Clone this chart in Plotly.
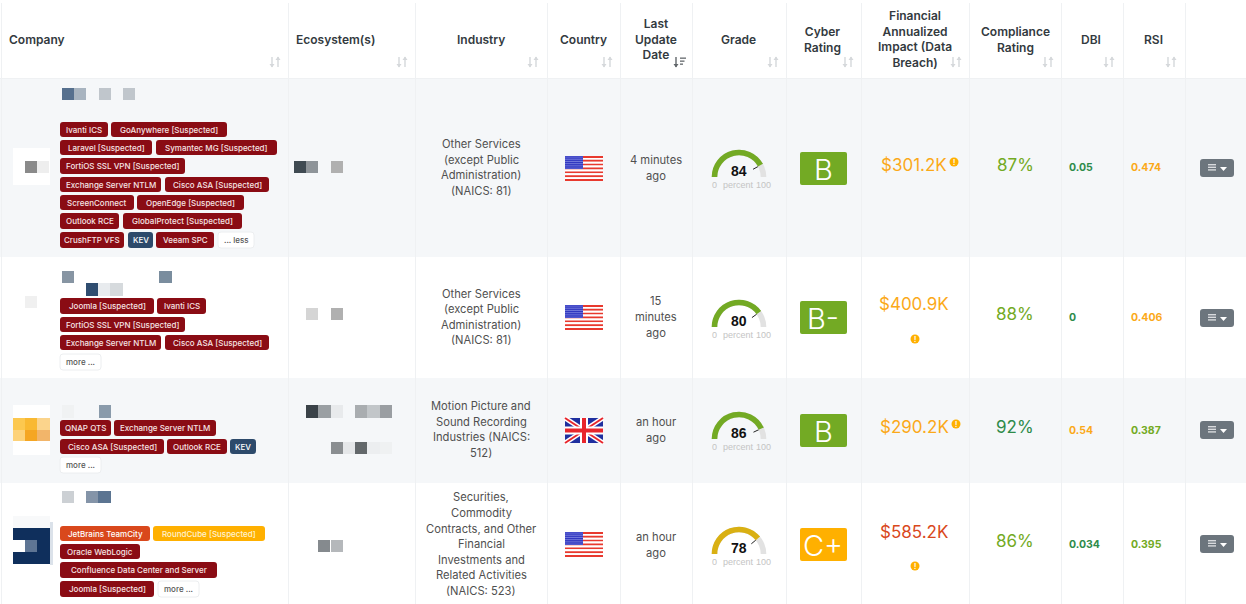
#!/usr/bin/env python
"""
plot.py - company risk table (tags, gauges, ratings) drawn with Plotly
"""
import math

import plotly.graph_objects as go

WIDTH = 1246
HEIGHT = 604
FONT = "Inter"

# --- table content ---
HEADERS = [
    "Company", "Ecosystem(s)", "Industry", "Country", "Last<br>Update<br>Date", "Grade",
    "Cyber<br>Rating", "Financial<br>Annualized<br>Impact (Data<br>Breach)",
    "Compliance<br>Rating", "DBI", "RSI",
]
ROW_TAGS = [
    ["Ivanti ICS", "GoAnywhere [Suspected]", "Laravel [Suspected]", "Symantec MG [Suspected]",
     "FortiOS SSL VPN [Suspected]", "Exchange Server NTLM", "Cisco ASA [Suspected]",
     "ScreenConnect", "OpenEdge [Suspected]", "Outlook RCE", "GlobalProtect [Suspected]",
     "CrushFTP VFS", "KEV", "Veeam SPC", "... less"],
    ["Joomla [Suspected]", "Ivanti ICS", "FortiOS SSL VPN [Suspected]", "Exchange Server NTLM",
     "Cisco ASA [Suspected]", "more ..."],
    ["QNAP QTS", "Exchange Server NTLM", "Cisco ASA [Suspected]", "Outlook RCE", "KEV", "more ..."],
    ["JetBrains TeamCity", "RoundCube [Suspected]", "Oracle WebLogic",
     "Confluence Data Center and Server", "Joomla [Suspected]", "more ..."],
]
INDUSTRY = [
    ["Other Services", "(except Public", "Administration)", "(NAICS: 81)"],
    ["Other Services", "(except Public", "Administration)", "(NAICS: 81)"],
    ["Motion Picture and", "Sound Recording", "Industries (NAICS:", "512)"],
    ["Securities,", "Commodity", "Contracts, and Other", "Financial", "Investments and",
     "Related Activities", "(NAICS: 523)"],
]
COUNTRY = ["US", "US", "UK", "US"]
UPDATED = [["4 minutes", "ago"], ["15", "minutes", "ago"], ["an hour", "ago"], ["an hour", "ago"]]
GRADE = [84, 80, 86, 78]
CYBER = ["B", "B-", "B", "C+"]
IMPACT = ["$301.2K", "$400.9K", "$290.2K", "$585.2K"]
COMPLIANCE = ["87%", "88%", "92%", "86%"]
DBI = ["0.05", "0", "0.54", "0.034"]
RSI = ["0.474", "0.406", "0.387", "0.395"]

# --- colours ---
RED = "#8a0c14"
ORANGE_RED = "#d9481c"
AMBER = "#ffb000"
NAVY = "#2d4a6b"
GREEN = "#73aa24"
DARK_GREEN = "#2e8b4a"
GOLD = "#d9b013"
ORANGE = "#fba919"
BAND = "#f5f7f9"
LINE = "#eff1f3"
TEXT = "#505050"
HEAD = "#333a40"

IMPACT_COLOR = [ORANGE, ORANGE, ORANGE, ORANGE_RED]
CYBER_COLOR = [GREEN, GREEN, GREEN, AMBER]
GAUGE_COLOR = [GREEN, GREEN, GREEN, GOLD]
COMPLIANCE_COLOR = [GREEN, GREEN, DARK_GREEN, GREEN]
DBI_COLOR = [DARK_GREEN, DARK_GREEN, ORANGE, DARK_GREEN]
RSI_COLOR = [ORANGE, ORANGE, GREEN, GREEN]

# --- layout in pixels, separate from the values above ---
COL_EDGES = [288, 415, 547, 620, 692, 786, 861, 969, 1061, 1123, 1185]
ROW_EDGES = [79, 257, 378, 483, 604]
HEADER_X = [9, 296, 481, 583, 656, 738, 822, 915, 1015, 1091, 1153]
SORT_X = [275, 402, 533, 607, 679, 773, 848, 956, 1048, 1109, 1171]
TAG_BOXES = [
    [(60, 108, 122, 137), (111, 227, 122, 137), (60, 152, 140, 155), (156, 277, 140, 155),
     (60, 185, 158, 174), (60, 161, 177, 192), (165, 269, 177, 192), (60, 134, 195, 210),
     (137, 244, 195, 210), (60, 119, 213, 229), (123, 242, 213, 229), (60, 124, 232, 248),
     (128, 153, 232, 248), (156, 214, 232, 248), (218, 254, 232, 248)],
    [(60, 154, 298, 314), (157, 206, 298, 314), (60, 185, 317, 332), (60, 161, 335, 350),
     (165, 269, 335, 350), (60, 101, 354, 370)],
    [(60, 111, 420, 436), (114, 216, 420, 436), (60, 164, 439, 454), (167, 227, 439, 454),
     (230, 256, 439, 454), (60, 101, 457, 473)],
    [(60, 150, 526, 541), (153, 265, 526, 541), (60, 140, 544, 559), (60, 217, 562, 578),
     (60, 154, 581, 597), (158, 199, 581, 597)],
]
INDUSTRY_Y = [[144, 160, 175, 191], [294, 309, 325, 340], [406, 422, 437, 453],
              [497, 513, 529, 544, 560, 575, 591]]
UPDATED_Y = [[160, 176], [301, 317, 333], [422, 438], [537, 553]]
FLAG_Y = [156, 305, 418, 532]
GAUGE_BASE = [177, 327, 439, 554]
CYBER_Y = [152, 301, 414, 528]
IMPACT_Y = [165, 304, 427, 532]
INFO_POS = [(954, 162), (915, 339), (956, 424), (915, 566)]
COMPLIANCE_Y = [165, 314, 427, 541]
SCORE_Y = [167, 317, 430, 544]
MENU_Y = [159, 309, 421, 535]

# redaction mosaics: x0, x1, y0, y1, colour
MOSAICS = [
    (13, 50, 148, 185, "#ffffff"), (25, 37, 161, 173, "#8a8a8a"), (37, 49, 161, 173, "#eeeeee"),
    (62, 74, 88, 100, "#56708e"), (74, 86, 88, 100, "#a8b4c0"), (99, 111, 88, 100, "#c0c6cc"),
    (123, 135, 88, 100, "#c0c6cc"), (294, 306, 161, 173, "#3f4a52"), (306, 318, 161, 173, "#8e9499"),
    (331, 343, 161, 173, "#b0b0b0"),
    (62, 74, 271, 283, "#8795a3"), (159, 172, 271, 283, "#7a8d9e"), (86, 98, 283, 296, "#2f4d70"),
    (98, 110, 283, 296, "#e8ebee"), (110, 123, 283, 296, "#d6dadd"), (25, 37, 296, 308, "#f0f0f0"),
    (306, 318, 308, 320, "#d5d5d5"), (331, 343, 308, 320, "#b0b0b0"),
    (13, 50, 405, 455, "#ffffff"), (13, 25, 418, 430, "#fcc84f"), (25, 37, 418, 430, "#f9b932"),
    (37, 50, 418, 430, "#fbd48c"), (13, 25, 430, 441, "#fdd27a"), (25, 37, 430, 441, "#f5a623"),
    (37, 50, 430, 441, "#f2b56a"), (62, 74, 405, 418, "#f0f2f3"), (99, 111, 405, 418, "#8a9bab"),
    (306, 318, 405, 418, "#3a4248"), (318, 331, 405, 418, "#9a9fa3"), (331, 343, 405, 418, "#e8eaec"),
    (355, 367, 405, 418, "#a9adb0"), (367, 380, 405, 418, "#c2c6c9"), (380, 392, 405, 418, "#9a9ea2"),
    (331, 343, 442, 454, "#8a8e91"), (343, 355, 442, 454, "#e5e7e9"), (355, 367, 442, 454, "#63686b"),
    (367, 380, 442, 454, "#eceef0"), (380, 392, 442, 454, "#eff1f2"),
    (62, 74, 491, 503, "#ccd0d4"), (86, 98, 491, 503, "#8494a8"), (98, 111, 491, 503, "#5b7491"),
    (13, 50, 516, 528, "#f8f9fa"), (50, 53, 522, 565, "#dbe2ea"),
    (13, 50, 528, 564, "#0f2f5c"), (13, 25, 540, 552, "#ffffff"), (25, 37, 540, 552, "#5e7594"),
    (318, 330, 540, 552, "#858a8e"), (331, 343, 540, 552, "#b5b8bb"),
]

shapes = []
annotations = []


def add_rect(x0, x1, y0, y1, color):
    shapes.append(dict(type="rect", x0=x0, x1=x1, y0=y0, y1=y1, fillcolor=color,
                       line=dict(width=0), layer="below"))


def add_rounded(x0, x1, y0, y1, color, r=3, border=None):
    path = (f"M{x0 + r},{y0} L{x1 - r},{y0} Q{x1},{y0} {x1},{y0 + r} L{x1},{y1 - r} "
            f"Q{x1},{y1} {x1 - r},{y1} L{x0 + r},{y1} Q{x0},{y1} {x0},{y1 - r} "
            f"L{x0},{y0 + r} Q{x0},{y0} {x0 + r},{y0} Z")
    line = dict(width=1, color=border) if border else dict(width=0)
    shapes.append(dict(type="path", path=path, fillcolor=color, line=line, layer="below"))


def add_text(x, y, text, size=11, color=TEXT, anchor="center", family=FONT, weight=400):
    annotations.append(dict(x=x, y=y, text=text, showarrow=False, xanchor=anchor, yanchor="middle",
                            borderpad=0, borderwidth=0,
                            font=dict(size=size, color=color, family=family, weight=weight)))


def add_arrow(x, y, color, down=True):
    # small vertical arrow with a triangular head
    tip, back = (y + 5.5, y + 2) if down else (y - 5.5, y - 2)
    add_rect(x - 0.7, x + 0.7, y - 5, y + 5, color)
    shapes.append(dict(type="path", path=f"M{x - 2.5},{back} L{x + 2.5},{back} L{x},{tip} Z",
                       fillcolor=color, line=dict(width=0), layer="below"))


def add_sort_icon(x, y, active=False):
    if active:
        # dark down arrow plus the shrinking bars of a sorted column
        add_arrow(x - 3, y, "#62676b")
        for i, width in enumerate((6, 4.5, 3)):
            add_rect(x + 1, x + 1 + width, y - 4.5 + i * 3, y - 3.2 + i * 3, "#62676b")
        return
    add_arrow(x - 3, y, "#d5d8db", down=True)
    add_arrow(x + 3, y, "#d5d8db", down=False)


def add_menu_button(y):
    add_rounded(1200, 1234, y, y + 18, "#6c757d", r=3)
    for i in range(3):
        add_rect(1208, 1216, y + 5 + i * 2.6, y + 6.4 + i * 2.6, "#d8dadd")
    shapes.append(dict(type="path", path=f"M1220,{y + 8} L1227,{y + 8} L1223.5,{y + 12} Z",
                       fillcolor="#ffffff", line=dict(width=0), layer="below"))


def tag_style(label):
    if label == "KEV":
        return NAVY, "#ffffff"
    if label.startswith("JetBrains"):
        return ORANGE_RED, "#ffffff"
    if label.startswith("RoundCube"):
        return AMBER, "#fff3d0"
    if label in ("more ...", "... less"):
        return "#ffffff", "#555555"
    return RED, "#f6e4e4"


def add_us_flag(x, y):
    for i in range(13):
        color = "#e8392e" if i % 2 == 0 else "#ffffff"
        add_rect(x, x + 38, y + i * 25 / 13, y + (i + 1) * 25 / 13, color)
    add_rect(x, x + 18, y, y + 13, "#3137c0")


def add_uk_flag(x, y):
    add_rect(x, x + 38, y, y + 25, "#1f2f9f")
    x1, y1 = x + 38, y + 25
    for width, color in ((5, "#ffffff"), (2, "#e8262c")):
        for a, b, c, d in ((x, y, x1, y1), (x, y1, x1, y)):
            shapes.append(dict(type="line", x0=a, y0=b, x1=c, y1=d, layer="below",
                               line=dict(color=color, width=width)))
    for width, color in ((8, "#ffffff"), (4, "#e8262c")):
        shapes.append(dict(type="line", x0=x + 19, y0=y, x1=x + 19, y1=y1, layer="below",
                           line=dict(color=color, width=width)))
        shapes.append(dict(type="line", x0=x, y0=y + 12.5, x1=x1, y1=y + 12.5, layer="below",
                           line=dict(color=color, width=width)))


def build_table():
    # row bands and column separators
    for i, color in enumerate([BAND, "#ffffff", BAND, "#ffffff"]):
        add_rect(0, WIDTH, ROW_EDGES[i], ROW_EDGES[i + 1], color)
    add_rect(0, WIDTH, 78, 79, LINE)
    for edge in COL_EDGES:
        add_rect(edge, edge + 1, 3, HEIGHT, LINE)
    add_rect(1, 2, 3, HEIGHT, LINE)

    # header
    for i, label in enumerate(HEADERS):
        anchor = "left" if i < 2 else "center"
        add_text(HEADER_X[i], 39, label, size=12, color=HEAD, anchor=anchor, weight=600)
        add_sort_icon(SORT_X[i], 62, active=i == 4)

    for x0, x1, y0, y1, color in MOSAICS:
        add_rect(x0, x1, y0, y1, color)

    for r in range(4):
        # tags of the company cell
        for label, (x0, x1, y0, y1) in zip(ROW_TAGS[r], TAG_BOXES[r]):
            fill, ink = tag_style(label)
            add_rounded(x0, x1, y0, y1, fill, border="#eceef0" if fill == "#ffffff" else None)
            add_text((x0 + x1) / 2, (y0 + y1) / 2, label, size=8, color=ink, weight=500)

        for line, y in zip(INDUSTRY[r], INDUSTRY_Y[r]):
            add_text(481, y, line, size=11.2, color=TEXT)
        for line, y in zip(UPDATED[r], UPDATED_Y[r]):
            add_text(656, y, line, size=11.2, color=TEXT)

        if COUNTRY[r] == "US":
            add_us_flag(565, FLAG_Y[r])
        else:
            add_uk_flag(565, FLAG_Y[r])

        # labels around the gauge
        base = GAUGE_BASE[r]
        add_text(739, base - 6, str(GRADE[r]), size=14, color="#111111",
                 family="Liberation Sans", weight=700)
        add_text(714, base + 8, "0", size=9, color="#c4c4c4", family="Liberation Sans")
        add_text(738.5, base + 8, "percent", size=9, color="#c4c4c4", family="Liberation Sans")
        add_text(763, base + 8, "100", size=9, color="#c4c4c4", family="Liberation Sans")

        add_rounded(800, 847, CYBER_Y[r], CYBER_Y[r] + 33, CYBER_COLOR[r], r=2)
        add_text(823, CYBER_Y[r] + 17, CYBER[r], size=29, color="#ffffff", weight=300)

        add_text(914, IMPACT_Y[r], IMPACT[r], size=17, color=IMPACT_COLOR[r])
        ix, iy = INFO_POS[r]
        shapes.append(dict(type="circle", x0=ix - 4.5, x1=ix + 4.5, y0=iy - 4.5, y1=iy + 4.5,
                           fillcolor=AMBER, line=dict(width=0), layer="below"))
        add_text(ix, iy, "!", size=7, color="#ffffff", weight=700)

        add_text(1015, COMPLIANCE_Y[r], COMPLIANCE[r], size=17, color=COMPLIANCE_COLOR[r])
        add_text(1069, SCORE_Y[r], DBI[r], size=10.5, color=DBI_COLOR[r], anchor="left", weight=700)
        add_text(1131, SCORE_Y[r], RSI[r], size=10.5, color=RSI_COLOR[r], anchor="left", weight=700)

        add_menu_button(MENU_Y[r])


def gauge_traces():
    traces = []
    radius = 28
    for r, value in enumerate(GRADE):
        base = GAUGE_BASE[r]
        traces.append(go.Indicator(
            mode="gauge",
            value=value,
            domain=dict(
                x=[(739 - radius) / WIDTH, (739 + radius) / WIDTH],
                y=[1 - base / HEIGHT, 1 - (base - radius) / HEIGHT],
            ),
            gauge=dict(
                shape="angular",
                axis=dict(range=[0, 100], visible=False),
                bar=dict(color=GAUGE_COLOR[r], thickness=0.8),
                bgcolor="rgba(0,0,0,0)",
                borderwidth=0,
                steps=[dict(range=[0, 100], color="#e2e2e2", thickness=0.8)],
            ),
        ))
        # short needle at the gauge value
        angle = math.pi * (1 - value / 100)
        traces.append(go.Scatter(
            x=[739 + 16 * math.cos(angle), 739 + 27 * math.cos(angle)],
            y=[base - 16 * math.sin(angle), base - 27 * math.sin(angle)],
            mode="lines", line=dict(color="#222222", width=1),
            hoverinfo="skip", showlegend=False,
        ))
    return traces


def star_trace():
    # tiny star dots inside the US cantons
    xs, ys = [], []
    for r, country in enumerate(COUNTRY):
        if country != "US":
            continue
        for i in range(9):
            for j in range(6):
                xs.append(566 + i * 2)
                ys.append(FLAG_Y[r] + 1 + j * 2.2)
    return go.Scatter(x=xs, y=ys, mode="markers", hoverinfo="skip", showlegend=False,
                      marker=dict(size=1.2, color="#aab0f0"))


def main():
    build_table()
    fig = go.Figure(gauge_traces() + [star_trace()])
    fig.update_layout(
        width=WIDTH, height=HEIGHT,
        margin=dict(l=0, r=0, t=0, b=0),
        paper_bgcolor="#ffffff", plot_bgcolor="#ffffff",
        showlegend=False,
        shapes=shapes, annotations=annotations,
        xaxis=dict(range=[0, WIDTH], visible=False, fixedrange=True),
        yaxis=dict(range=[HEIGHT, 0], visible=False, fixedrange=True),
    )
    fig.write_html("out.html", post_script="document.body.style.margin='0';", config=dict(displayModeBar=False))


if __name__ == "__main__":
    main()
